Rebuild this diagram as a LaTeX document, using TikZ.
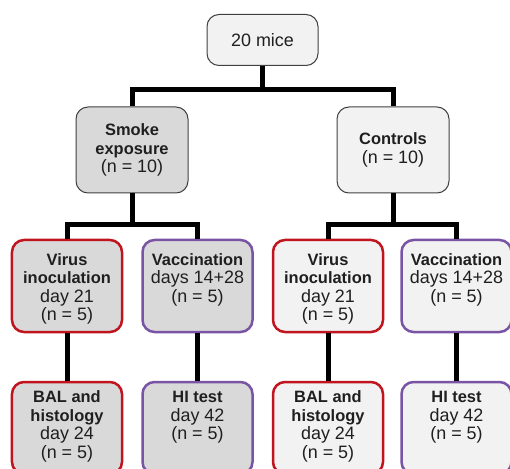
\documentclass[tikz,border=0pt]{standalone}
\usepackage{fontspec}
\setmainfont{Liberation Sans}
\definecolor{boxline}{RGB}{64,64,64}
\definecolor{darkfill}{RGB}{217,217,217}
\definecolor{lightfill}{RGB}{242,242,242}
\definecolor{virusred}{RGB}{192,20,30}
\definecolor{vaccpurple}{RGB}{122,84,164}
\newcommand{\hd}[1]{{\fontsize{16.5}{18.5}\selectfont\bfseries #1}}
\begin{document}
\begin{tikzpicture}
  [x=1bp, y=-1bp,
    box/.style={
      draw=boxline, line width=1bp, rounded corners=12bp, align=center,
      inner sep=0pt, text=black!88,
      font=\fontsize{18}{18.5}\selectfont
    },
    group/.style={box, minimum width=112bp, minimum height=86bp},
    arm/.style={box, line width=2.5bp, fill=darkfill, minimum width=110bp},
    % text placement: the last baseline sits text height below the top
    armfour/.style={arm, text height=80.5bp, text depth=11.5bp},
    armthree/.style={arm, text height=62bp, text depth=30bp},
    endfour/.style={arm, text height=76bp, text depth=16bp},
    endthree/.style={arm, text height=57.5bp, text depth=34.5bp},
    link/.style={line width=5bp, black},
  ]
  \useasboundingbox (0,0) rectangle (510,469);
  \clip (0,0) rectangle (510,469);

  \node[box, fill=lightfill, minimum width=111bp, minimum height=51bp]
    (mice) at (262.5,40) {20 mice};
  \node[group, fill=darkfill] (smoke) at (132,150)
    {\hd{Smoke}\\\hd{exposure}\\(n = 10)};
  \node[group, fill=lightfill] (ctrl) at (393,150)
    {\hd{Controls}\\(n = 10)};

  % Second row
  \node[armfour, draw=virusred] (virusA) at (67,286)
    {\hd{Virus}\\\hd{inoculation}\\day 21\\(n = 5)};
  \node[armthree, draw=vaccpurple] (vaccA) at (197.5,286)
    {\hd{Vaccination}\\days 14+28\\(n = 5)};
  \node[armfour, draw=virusred, fill=lightfill] (virusB) at (328,286)
    {\hd{Virus}\\\hd{inoculation}\\day 21\\(n = 5)};
  \node[armthree, draw=vaccpurple, fill=lightfill] (vaccB) at (456.5,286)
    {\hd{Vaccination}\\days 14+28\\(n = 5)};

  % Third row
  \node[endfour, draw=virusred] (balA) at (67,428)
    {\hd{BAL and}\\\hd{histology}\\day 24\\(n = 5)};
  \node[endthree, draw=vaccpurple] (hiA) at (197.5,428)
    {\hd{HI test}\\day 42\\(n = 5)};
  \node[endfour, draw=virusred, fill=lightfill] (balB) at (328,428)
    {\hd{BAL and}\\\hd{histology}\\day 24\\(n = 5)};
  \node[endthree, draw=vaccpurple, fill=lightfill] (hiB) at (456.5,428)
    {\hd{HI test}\\day 42\\(n = 5)};

  % Connectors
  \draw[link] (mice.south) -- ++(0,24) -| (smoke.north);
  \draw[link] (mice.south) -- ++(0,24) -| (ctrl.north);
  \draw[link] (smoke.south) -- ++(0,31) -| (virusA.north);
  \draw[link] (smoke.south) -- ++(0,31) -| (vaccA.north);
  \draw[link] (ctrl.south) -- ++(0,31) -| (virusB.north);
  \draw[link] (ctrl.south) -- ++(0,31) -| (vaccB.north);
  \foreach \a/\b in {virusA/balA, vaccA/hiA, virusB/balB, vaccB/hiB}
    \draw[link] (\a) -- (\b);
\end{tikzpicture}
\end{document}
